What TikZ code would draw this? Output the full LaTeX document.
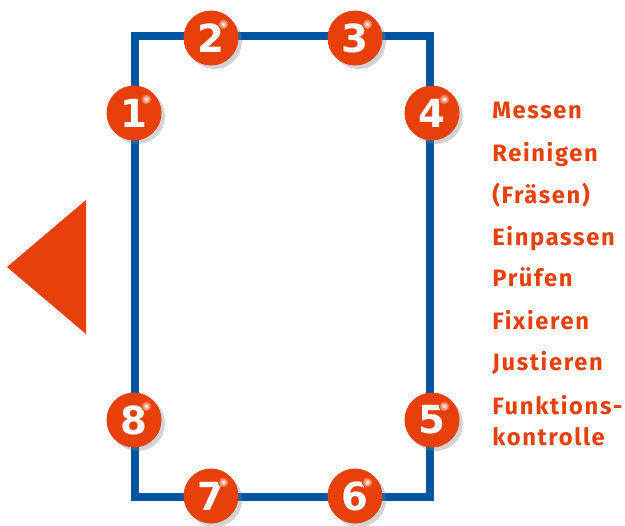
\documentclass[tikz,border=0pt]{standalone}
\usepackage{fontspec}
\setmainfont{Fira Sans}
\newfontfamily\stepfont[LetterSpace=7]{Fira Sans}
\newfontfamily\digitfont{DejaVu Sans}
\usetikzlibrary{shadows}
\definecolor{steporange}{RGB}{232,64,10}
\definecolor{frameblue}{RGB}{0,85,160}

\begin{document}
\begin{tikzpicture}[x=0.02cm, y=-0.02cm,
  main node/.style={circle, fill=steporange, minimum size=1.1cm, inner sep=0pt, text=white,
    font=\digitfont\fontsize{22}{22}\selectfont\bfseries,
    drop shadow={opacity=0.35, shadow xshift=0.07cm, shadow yshift=-0.07cm}},
  task/.style={anchor=base west, inner sep=0pt, text=steporange, font=\stepfont\fontsize{13.5}{13.5}\selectfont\bfseries},
  frame/.style={frameblue, line width=0.16cm}]
\useasboundingbox (0,0) rectangle (625,525);

% corners of the frame
\coordinate (tl) at (135,36);
\coordinate (br) at (430,497);
\draw[frame] (tl) rectangle (br);

% arrow on the left
\fill[steporange] (7,267) -- (86,200) -- (86,334) -- cycle;

% left side
\node[main node] (n1) at (134,113) {1};
\node[main node] (n8) at (134,420) {8};

% top
\node[main node] (n2) at (211,38) {2};
\node[main node] (n3) at (355,38) {3};

% right side
\node[main node] (n4) at (432,113) {4};
\node[main node] (n5) at (432,420) {5};

% bottom
\node[main node] (n6) at (355,496) {6};
\node[main node] (n7) at (211,496) {7};

% highlights
\foreach \i in {1,...,8}
  \shade[inner color=white, outer color=steporange] ([shift={(12,-14)}]n\i.center) circle (5.5);

% steps
\node[task] (t1) at (492,118) {Messen};
\node[task] (t2) at (492,161) {Reinigen};
\node[task] (t3) at (492,203) {(Fräsen)};
\node[task] (t4) at (492,245) {Einpassen};
\node[task] (t5) at (492,286) {Prüfen};
\node[task] (t6) at (492,329) {Fixieren};
\node[task] (t7) at (492,370) {Justieren};
\node[task] (t8) at (492,414) {Funktions-};
\node[task] (t9) at (492,445) {kontrolle};

\end{tikzpicture}
\end{document}
